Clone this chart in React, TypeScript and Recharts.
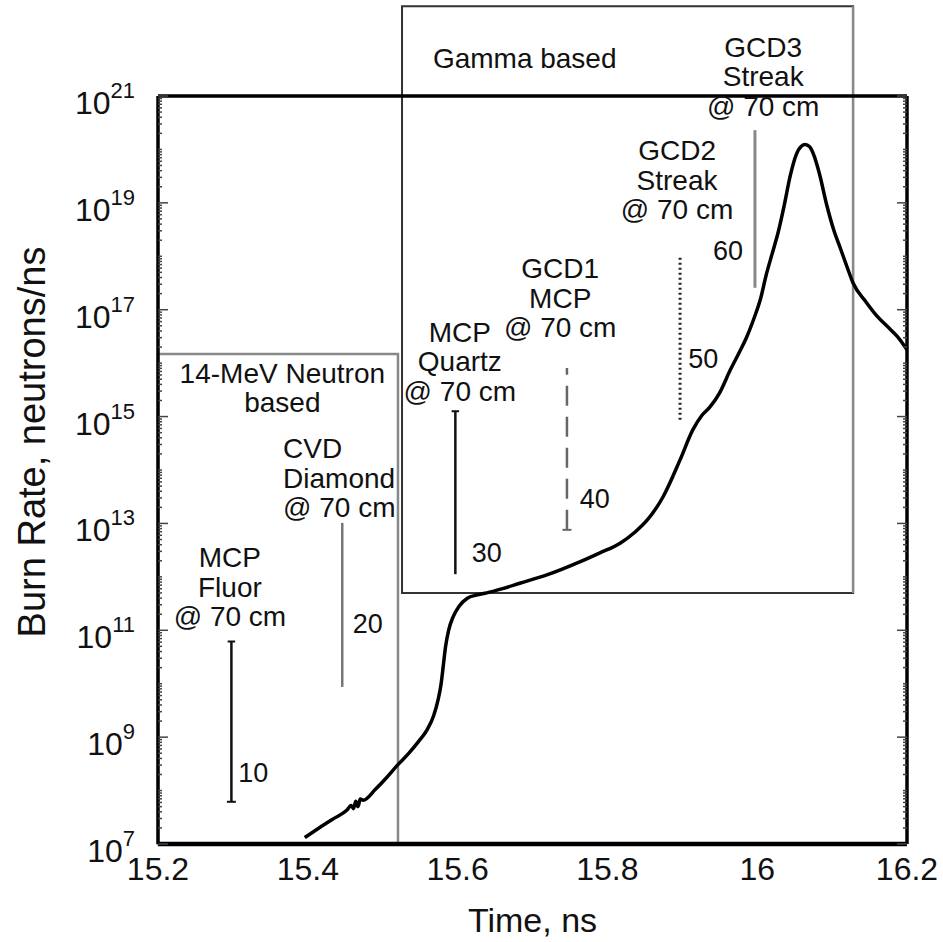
import { ComposedChart, Line, XAxis, YAxis, ReferenceArea, ReferenceLine, ReferenceDot } from 'recharts'

const FONT = "'Liberation Sans', Arial, Helvetica, sans-serif"

// burn history: time (ns) and log10 of burn rate (neutrons/ns)
const timeNs = [
  15.396, 15.415, 15.435, 15.452, 15.458, 15.461, 15.464, 15.467, 15.47, 15.474,
  15.49, 15.505, 15.52, 15.535, 15.548, 15.559, 15.568, 15.574, 15.578, 15.581,
  15.584, 15.588, 15.594, 15.602, 15.613, 15.625, 15.639, 15.66, 15.683, 15.72,
  15.763, 15.79, 15.817, 15.837, 15.853, 15.874, 15.897, 15.914, 15.926, 15.937,
  15.95, 15.964, 15.976, 15.986, 15.996, 16.004, 16.012, 16.02, 16.028, 16.036,
  16.044, 16.052, 16.059, 16.064, 16.07, 16.076, 16.083, 16.093, 16.102, 16.111,
  16.12, 16.128, 16.145, 16.16, 16.175, 16.187, 16.2,
]
const burnExp = [
  7.12, 7.3, 7.48, 7.63, 7.72, 7.66, 7.8, 7.7, 7.84, 7.82,
  8.02, 8.24, 8.48, 8.7, 8.92, 9.13, 9.4, 9.7, 10.0, 10.35,
  10.7, 11.0, 11.25, 11.45, 11.6, 11.66, 11.7, 11.78, 11.88, 12.04,
  12.28, 12.45, 12.63, 12.84, 13.06, 13.49, 14.19, 14.75, 15.02, 15.18,
  15.45, 15.87, 16.2, 16.49, 16.85, 17.18, 17.65, 18.05, 18.45, 18.95,
  19.5, 19.9, 20.06, 20.09, 20.05, 19.88, 19.55, 18.95, 18.5, 18.15,
  17.8, 17.5, 17.15, 16.88, 16.67, 16.5, 16.25,
]

// detector windows
const detectorNames = [
  ['MCP', 'Fluor', '@ 70 cm'],
  ['CVD', 'Diamond', '@ 70 cm'],
  ['MCP', 'Quartz', '@ 70 cm'],
  ['GCD1', 'MCP', '@ 70 cm'],
  ['GCD2', 'Streak', '@ 70 cm'],
  ['GCD3', 'Streak', '@ 70 cm'],
]
const detectorTime = [15.298, 15.446, 15.597, 15.746, 15.897, 15.997]
const detectorLow = [7.79, 9.94, 12.05, 12.88, 14.94, 17.41]
const detectorHigh = [10.79, 13.01, 15.1, 15.91, 18.0, 20.36]
const detectorTags = ['10', '20', '30', '40', '50', '60']

// boxes
const neutronBox = { x1: 15.2, x2: 15.5204, y1: 7, y2: 16.17 }
const gammaBox = { x1: 15.5258, x2: 16.128, y1: 11.7, y2: 22.68 }

const xTicks = [15.2, 15.4, 15.6, 15.8, 16, 16.2]
const xTickLabels = ['15.2', '15.4', '15.6', '15.8', '16', '16.2']
const yMajor = [7, 9, 11, 13, 15, 17, 19, 21]
const yMajorLabels = ['7', '9', '11', '13', '15', '17', '19', '21']

// label placement (data coords of first baseline)
const namePos = [
  { x: 15.296, y: 12.18, anchor: 'middle' },
  { x: 15.367, y: 14.22, anchor: 'start' },
  { x: 15.603, y: 16.4, anchor: 'middle' },
  { x: 15.737, y: 17.59, anchor: 'middle' },
  { x: 15.893, y: 19.8, anchor: 'middle' },
  { x: 16.008, y: 21.73, anchor: 'middle' },
]
const tagPos = [
  { x: 15.307, y: 8.16 },
  { x: 15.46, y: 10.95 },
  { x: 15.619, y: 12.28 },
  { x: 15.763, y: 13.29 },
  { x: 15.908, y: 15.91 },
  { x: 15.941, y: 17.93 },
]
const barStyle = [
  { stroke: '#111', width: 2.5, dash: undefined, capLow: true, capHigh: true },
  { stroke: '#777', width: 2.5, dash: undefined, capLow: false, capHigh: false },
  { stroke: '#111', width: 2.5, dash: undefined, capLow: false, capHigh: true },
  { stroke: '#666', width: 2.5, dash: '20 11', capLow: true, capHigh: false },
  { stroke: '#222', width: 3, dash: '2 3', capLow: false, capHigh: false },
  { stroke: '#888', width: 3, dash: undefined, capLow: false, capHigh: false },
]

const curve = timeNs.map((t, i) => ({ t, e: burnExp[i] }))

const yMinor: number[] = []
for (let d = 7; d < 21; d++) {
  for (let k = 2; k <= 10; k++) {
    const v = d + Math.log10(k)
    if (!yMajor.includes(v)) yMinor.push(v)
  }
}
const yTicks = [...yMajor, ...yMinor].sort((a, b) => a - b)

function YTick(props: any) {
  const { x, y, payload, side } = props
  const v = payload.value
  const idx = yMajor.indexOf(v)
  const len = idx >= 0 ? 10 : 4
  const dir = side === 'left' ? 1 : -1
  return (
    <g>
      <line x1={x} x2={x + dir * len} y1={y} y2={y} stroke="#444" strokeWidth={1.5} />
      {side === 'left' && idx >= 0 && (
        <text x={x - 23} y={y + 18} textAnchor="end" fontSize={32} fontFamily={FONT} fill="#111">
          10<tspan dy={-16} fontSize={22}>{yMajorLabels[idx]}</tspan>
        </text>
      )}
    </g>
  )
}

function XTick(props: any) {
  const { x, y, payload } = props
  const i = xTicks.indexOf(payload.value)
  return (
    <text x={x} y={y + 36} textAnchor="middle" fontSize={32} fontFamily={FONT} fill="#111">
      {xTickLabels[i]}
    </text>
  )
}

function TextBlock(props: any) {
  const { cx, cy, lines, anchor, size } = props
  return (
    <text x={cx} y={cy} textAnchor={anchor} fontSize={size} fontFamily={FONT} fill="#111">
      {lines.map((l: string, i: number) => (
        <tspan key={i} x={cx} dy={i === 0 ? 0 : 29.5}>{l}</tspan>
      ))}
    </text>
  )
}

export default function App() {
  return (
    <div style={{ position: 'absolute', left: 0, top: 0, background: '#fff' }}>
      <ComposedChart width={943} height={942} data={curve} margin={{ top: 95, right: 26, bottom: 38, left: 58 }}>
        <XAxis
          xAxisId="b"
          dataKey="t"
          type="number"
          domain={[15.2, 16.2]}
          ticks={xTicks}
          interval={0}
          allowDataOverflow
          height={60}
          tickLine={false}
          tickSize={0}
          tickMargin={0}
          axisLine={{ stroke: '#000', strokeWidth: 4.5 }}
          tick={<XTick />}
          label={{
            content: (p: any) => (
              <text x={p.viewBox.x + p.viewBox.width / 2} y={p.viewBox.y + 88} textAnchor="middle" fontSize={34} fontFamily={FONT} fill="#111">
                Time, ns
              </text>
            ),
          }}
        />
        <XAxis xAxisId="t" orientation="top" type="number" domain={[15.2, 16.2]} allowDataOverflow height={1} tick={false} tickLine={false} axisLine={{ stroke: '#000', strokeWidth: 3.5 }} />
        <YAxis
          yAxisId="l"
          type="number"
          domain={[7, 21]}
          allowDataOverflow
          ticks={yTicks}
          interval={0}
          width={100}
          tickLine={false}
          tickSize={0}
          tickMargin={0}
          axisLine={{ stroke: '#000', strokeWidth: 3.5 }}
          tick={<YTick side="left" />}
          label={{
            content: (p: any) => (
              <text
                transform={`translate(${p.viewBox.x - 13}, ${p.viewBox.y + p.viewBox.height / 2 - 28}) rotate(-90)`}
                textAnchor="middle"
                fontSize={38}
                fontFamily={FONT}
                fill="#111"
              >
                Burn Rate, neutrons/ns
              </text>
            ),
          }}
        />
        <YAxis
          yAxisId="r"
          orientation="right"
          type="number"
          domain={[7, 21]}
          allowDataOverflow
          ticks={yTicks}
          interval={0}
          width={10}
          tickLine={false}
          tickSize={0}
          tickMargin={0}
          axisLine={{ stroke: '#000', strokeWidth: 3.5 }}
          tick={<YTick side="right" />}
        />

        <ReferenceArea xAxisId="b" yAxisId="l" {...neutronBox} ifOverflow="visible" fill="none" stroke="#888" strokeWidth={2.5} />
        <ReferenceArea xAxisId="b" yAxisId="l" {...gammaBox} ifOverflow="visible" fill="none" stroke="#333" strokeWidth={2} />
        <ReferenceLine xAxisId="b" yAxisId="l" ifOverflow="visible"
          segment={[{ x: gammaBox.x2, y: gammaBox.y1 }, { x: gammaBox.x2, y: gammaBox.y2 }]}
          stroke="#888" strokeWidth={2.5} />

        {detectorTime.map((t, i) => (
          <ReferenceLine
            key={'bar' + i}
            xAxisId="b"
            yAxisId="l"
            ifOverflow="visible"
            segment={[{ x: t, y: detectorLow[i] }, { x: t, y: detectorHigh[i] }]}
            stroke={barStyle[i].stroke}
            strokeWidth={barStyle[i].width}
            strokeDasharray={barStyle[i].dash}
          />
        ))}
        {detectorTime.map((t, i) =>
          barStyle[i].capLow ? (
            <ReferenceLine key={'cl' + i} xAxisId="b" yAxisId="l" ifOverflow="visible"
              segment={[{ x: t - 0.006, y: detectorLow[i] }, { x: t + 0.006, y: detectorLow[i] }]}
              stroke={barStyle[i].stroke} strokeWidth={2} />
          ) : null
        )}
        {detectorTime.map((t, i) =>
          barStyle[i].capHigh ? (
            <ReferenceLine key={'ch' + i} xAxisId="b" yAxisId="l" ifOverflow="visible"
              segment={[{ x: t - 0.005, y: detectorHigh[i] }, { x: t + 0.005, y: detectorHigh[i] }]}
              stroke={barStyle[i].stroke} strokeWidth={2} />
          ) : null
        )}

        {detectorNames.map((lines, i) => (
          <ReferenceDot key={'n' + i} xAxisId="b" yAxisId="l" x={namePos[i].x} y={namePos[i].y} r={0} ifOverflow="visible"
            shape={(p: any) => <TextBlock {...p} lines={lines} anchor={namePos[i].anchor} size={28} />} />
        ))}
        {detectorTags.map((tag, i) => (
          <ReferenceDot key={'g' + i} xAxisId="b" yAxisId="l" x={tagPos[i].x} y={tagPos[i].y} r={0} ifOverflow="visible"
            shape={(p: any) => <TextBlock {...p} lines={[tag]} anchor="start" size={27} />} />
        ))}
        <ReferenceDot xAxisId="b" yAxisId="l" x={15.567} y={21.52} r={0} ifOverflow="visible"
          shape={(p: any) => <TextBlock {...p} lines={['Gamma based']} anchor="start" size={28} />} />
        <ReferenceDot xAxisId="b" yAxisId="l" x={15.366} y={15.63} r={0} ifOverflow="visible"
          shape={(p: any) => <TextBlock {...p} lines={['14-MeV Neutron', 'based']} anchor="middle" size={28} />} />

        <Line xAxisId="b" yAxisId="l" dataKey="e" type="monotone" stroke="#000" strokeWidth={3.5} dot={false} isAnimationActive={false} />
      </ComposedChart>
    </div>
  )
}
